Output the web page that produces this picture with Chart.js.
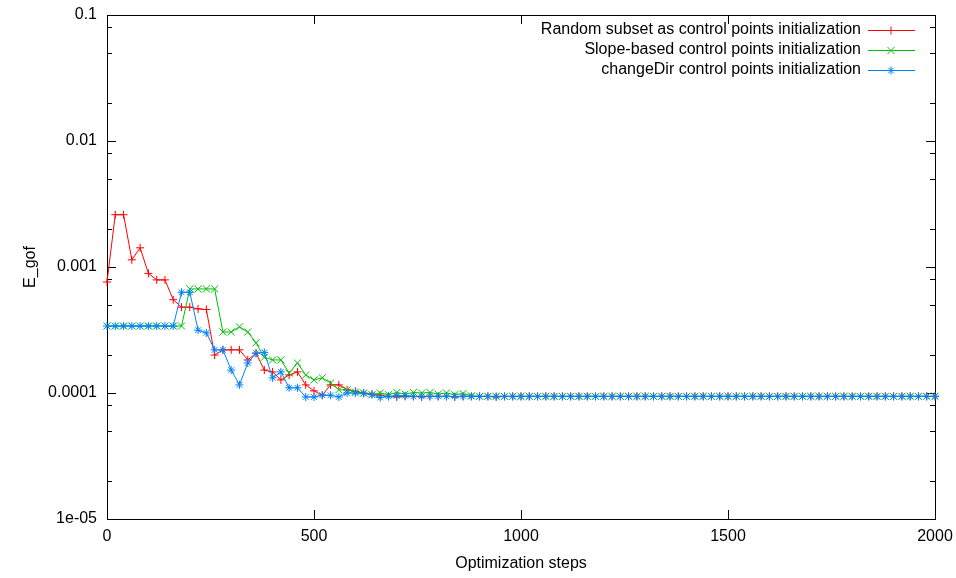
<!DOCTYPE html>
<html>
<head>
<meta charset="utf-8">
<script src="https://cdn.jsdelivr.net/npm/chart.js@4.4.1/dist/chart.umd.min.js"></script>
<style>
  html, body { margin: 0; padding: 0; background: #fff; }
  #wrap { width: 956px; height: 578px; }
</style>
</head>
<body>
<div id="wrap"><canvas id="c" width="956" height="578"></canvas></div>
<script>
// optimization step of each sample (one every 20 steps, 0..2000)
const steps = [];
for (let s = 0; s <= 2000; s += 20) steps.push(s);

const seriesNames = [
  'Random subset as control points initialization',
  'Slope-based control points initialization',
  'changeDir control points initialization',
];

const randomInit = [
  7.6e-4, 2.6e-3, 2.6e-3, 1.14e-3, 1.42e-3, 8.9e-4, 7.9e-4, 7.9e-4, 5.5e-4, 4.8e-4,
  4.8e-4, 4.65e-4, 4.6e-4, 2.0e-4, 2.2e-4, 2.2e-4, 2.2e-4, 1.83e-4, 2.07e-4, 1.52e-4,
  1.47e-4, 1.27e-4, 1.39e-4, 1.47e-4, 1.16e-4, 1.04e-4, 9.6e-5, 1.16e-4, 1.16e-4, 1.06e-4,
  1.03e-4, 1.0e-4, 9.8e-5, 9.6e-5, 9.4e-5, 9.3e-5, 9.4e-5, 9.4e-5, 9.3e-5, 9.4e-5,
  9.4e-5, 9.4e-5, 9.3e-5, 9.4e-5, 9.4e-5, 9.4e-5, 9.4e-5, 9.3e-5, 9.4e-5, 9.4e-5,
  9.4e-5, 9.4e-5, 9.4e-5, 9.4e-5, 9.4e-5, 9.4e-5, 9.4e-5, 9.4e-5, 9.4e-5, 9.4e-5,
  9.4e-5, 9.4e-5, 9.4e-5, 9.4e-5, 9.4e-5, 9.4e-5, 9.4e-5, 9.4e-5, 9.4e-5, 9.4e-5,
  9.4e-5, 9.4e-5, 9.4e-5, 9.4e-5, 9.4e-5, 9.4e-5, 9.4e-5, 9.4e-5, 9.4e-5, 9.4e-5,
  9.4e-5, 9.4e-5, 9.4e-5, 9.4e-5, 9.4e-5, 9.4e-5, 9.4e-5, 9.4e-5, 9.4e-5, 9.4e-5,
  9.4e-5, 9.4e-5, 9.4e-5, 9.4e-5, 9.4e-5, 9.4e-5, 9.4e-5, 9.4e-5, 9.4e-5, 9.4e-5,
  9.4e-5,
];

const slopeInit = [
  3.4e-4, 3.4e-4, 3.4e-4, 3.4e-4, 3.4e-4, 3.4e-4, 3.4e-4, 3.4e-4, 3.4e-4, 3.4e-4,
  6.7e-4, 6.7e-4, 6.7e-4, 6.7e-4, 3.05e-4, 3.05e-4, 3.35e-4, 3.05e-4, 2.5e-4, 1.92e-4,
  1.83e-4, 1.83e-4, 1.44e-4, 1.73e-4, 1.39e-4, 1.27e-4, 1.32e-4, 1.2e-4, 1.06e-4, 1.06e-4,
  1.02e-4, 1.0e-4, 9.7e-5, 1.0e-4, 9.7e-5, 1.01e-4, 9.8e-5, 1.01e-4, 1.0e-4, 1.01e-4,
  9.8e-5, 1.0e-4, 9.7e-5, 9.9e-5, 9.5e-5, 9.4e-5, 9.4e-5, 9.4e-5, 9.4e-5, 9.4e-5,
  9.4e-5, 9.4e-5, 9.4e-5, 9.4e-5, 9.4e-5, 9.4e-5, 9.4e-5, 9.4e-5, 9.4e-5, 9.4e-5,
  9.4e-5, 9.4e-5, 9.4e-5, 9.4e-5, 9.4e-5, 9.4e-5, 9.4e-5, 9.4e-5, 9.4e-5, 9.4e-5,
  9.4e-5, 9.4e-5, 9.4e-5, 9.4e-5, 9.4e-5, 9.4e-5, 9.4e-5, 9.4e-5, 9.4e-5, 9.4e-5,
  9.4e-5, 9.4e-5, 9.4e-5, 9.4e-5, 9.4e-5, 9.4e-5, 9.4e-5, 9.4e-5, 9.4e-5, 9.4e-5,
  9.4e-5, 9.4e-5, 9.4e-5, 9.4e-5, 9.4e-5, 9.4e-5, 9.4e-5, 9.4e-5, 9.4e-5, 9.4e-5,
  9.4e-5,
];

const changeDirInit = [
  3.4e-4, 3.4e-4, 3.4e-4, 3.4e-4, 3.4e-4, 3.4e-4, 3.4e-4, 3.4e-4, 3.4e-4, 6.3e-4,
  6.3e-4, 3.15e-4, 3.0e-4, 2.2e-4, 2.2e-4, 1.52e-4, 1.16e-4, 1.73e-4, 2.07e-4, 2.1e-4,
  1.32e-4, 1.47e-4, 1.1e-4, 1.1e-4, 9.3e-5, 9.3e-5, 9.6e-5, 9.6e-5, 9.3e-5, 1.0e-4,
  1.0e-4, 9.9e-5, 9.7e-5, 9.2e-5, 9.4e-5, 9.5e-5, 9.5e-5, 9.4e-5, 9.4e-5, 9.4e-5,
  9.4e-5, 9.4e-5, 9.4e-5, 9.4e-5, 9.4e-5, 9.4e-5, 9.4e-5, 9.4e-5, 9.4e-5, 9.4e-5,
  9.4e-5, 9.4e-5, 9.4e-5, 9.4e-5, 9.4e-5, 9.4e-5, 9.4e-5, 9.4e-5, 9.4e-5, 9.4e-5,
  9.4e-5, 9.4e-5, 9.4e-5, 9.4e-5, 9.4e-5, 9.4e-5, 9.4e-5, 9.4e-5, 9.4e-5, 9.4e-5,
  9.4e-5, 9.4e-5, 9.4e-5, 9.4e-5, 9.4e-5, 9.4e-5, 9.4e-5, 9.4e-5, 9.4e-5, 9.4e-5,
  9.4e-5, 9.4e-5, 9.4e-5, 9.4e-5, 9.4e-5, 9.4e-5, 9.4e-5, 9.4e-5, 9.4e-5, 9.4e-5,
  9.4e-5, 9.4e-5, 9.4e-5, 9.4e-5, 9.4e-5, 9.4e-5, 9.4e-5, 9.4e-5, 9.4e-5, 9.4e-5,
  9.4e-5,
];

const xTicks = [0, 500, 1000, 1500, 2000];
const xTickLabels = ['0', '500', '1000', '1500', '2000'];
const yTicks = [1e-5, 1e-4, 1e-3, 1e-2, 1e-1];
const yTickLabels = ['1e-05', '0.0001', '0.001', '0.01', '0.1'];
const yMinorFactors = [0.2, 0.5, 0.8];

const FONT = '"Liberation Sans", Arial, Helvetica, sans-serif';
const COLORS = ['#ff0000', '#00c000', '#0080ff'];
const MARKS = ['cross', 'crossRot', 'star'];

// gnuplot-like frame with inward ticks on all four sides
const frame = {
  id: 'frame',
  beforeDatasetsDraw(chart) {
    const { ctx, chartArea: a, scales: { x, y } } = chart;
    ctx.save();
    ctx.strokeStyle = '#000';
    ctx.lineWidth = 1;
    ctx.beginPath();
    xTicks.forEach(v => {
      const px = Math.round(x.getPixelForValue(v)) + 0.5;
      ctx.moveTo(px, a.bottom); ctx.lineTo(px, a.bottom - 9);
      ctx.moveTo(px, a.top); ctx.lineTo(px, a.top + 9);
    });
    yTicks.forEach((v, i) => {
      const py = Math.round(y.getPixelForValue(v)) + 0.5;
      ctx.moveTo(a.left, py); ctx.lineTo(a.left + 9, py);
      ctx.moveTo(a.right, py); ctx.lineTo(a.right - 9, py);
      if (i === yTicks.length - 1) return;
      yMinorFactors.forEach(f => {
        const my = Math.round(y.getPixelForValue(v * 10 * f)) + 0.5;
        ctx.moveTo(a.left, my); ctx.lineTo(a.left + 5, my);
        ctx.moveTo(a.right, my); ctx.lineTo(a.right - 5, my);
      });
    });
    ctx.stroke();
    ctx.strokeRect(Math.round(a.left) + 0.5, Math.round(a.top) + 0.5,
      Math.round(a.right - a.left), Math.round(a.bottom - a.top));
    ctx.restore();
  },
  afterDatasetsDraw(chart) {
    const { ctx, chartArea: a } = chart;
    ctx.save();
    ctx.font = '16px ' + FONT;
    ctx.textAlign = 'right';
    ctx.textBaseline = 'middle';
    seriesNames.forEach((name, i) => {
      const yy = a.top + 15 + i * 20;
      ctx.fillStyle = '#000';
      ctx.fillText(name, a.right - 74, yy);
      ctx.strokeStyle = COLORS[i];
      ctx.lineWidth = 1;
      ctx.beginPath();
      ctx.moveTo(a.right - 67, yy + 0.5); ctx.lineTo(a.right - 20, yy + 0.5);
      ctx.stroke();
      Chart.helpers.drawPoint(ctx, { pointStyle: MARKS[i], radius: i === 1 ? 5 : 4, rotation: 0, borderWidth: 1 },
        a.right - 44, yy + 0.5);
    });
    ctx.restore();
  }
};

const sets = [randomInit, slopeInit, changeDirInit];

new Chart(document.getElementById('c'), {
  type: 'line',
  data: {
    datasets: sets.map((vals, i) => ({
      label: seriesNames[i],
      data: vals.map((v, k) => ({ x: steps[k], y: v })),
      borderColor: COLORS[i],
      backgroundColor: COLORS[i],
      borderWidth: 1,
      pointStyle: MARKS[i],
      pointRadius: i === 1 ? 5 : 4,
      pointBorderWidth: 1,
      pointBorderColor: COLORS[i],
      tension: 0,
      fill: false,
      clip: false,
      order: 2 - i,
    })),
  },
  options: {
    responsive: false,
    animation: false,
    events: [],
    layout: { padding: { top: 15, right: 21, left: 0, bottom: 0 } },
    plugins: { legend: { display: false }, tooltip: { enabled: false } },
    scales: {
      x: {
        type: 'linear', min: 0, max: 2000,
        grid: { display: false, drawTicks: false },
        border: { display: false },
        afterBuildTicks: s => { s.ticks = xTicks.map(v => ({ value: v })); },
        afterFit: s => { s.height = 59; s.paddingLeft = 0; s.paddingRight = 0; },
        ticks: {
          padding: 8, color: '#000', font: { family: FONT, size: 16 },
          maxRotation: 0, autoSkip: false,
          callback: (v, i) => xTickLabels[i],
        },
        title: {
          display: true, text: 'Optimization steps', color: '#000',
          font: { family: FONT, size: 16 }, padding: { top: 0, bottom: 5 },
        },
      },
      y: {
        type: 'logarithmic', min: 1e-5, max: 0.1,
        grid: { display: false, drawTicks: false },
        border: { display: false },
        afterBuildTicks: s => { s.ticks = yTicks.map(v => ({ value: v })); },
        afterFit: s => { s.width = 107; s.paddingTop = 0; s.paddingBottom = 0; },
        ticks: {
          padding: 10, color: '#000', font: { family: FONT, size: 16 },
          autoSkip: false,
          callback: (v, i) => yTickLabels[i],
        },
        title: {
          display: true, text: 'E_gof', color: '#000',
          font: { family: FONT, size: 16 }, padding: { top: 21, bottom: 0 },
        },
      },
    },
  },
  plugins: [frame],
});
</script>
</body>
</html>
